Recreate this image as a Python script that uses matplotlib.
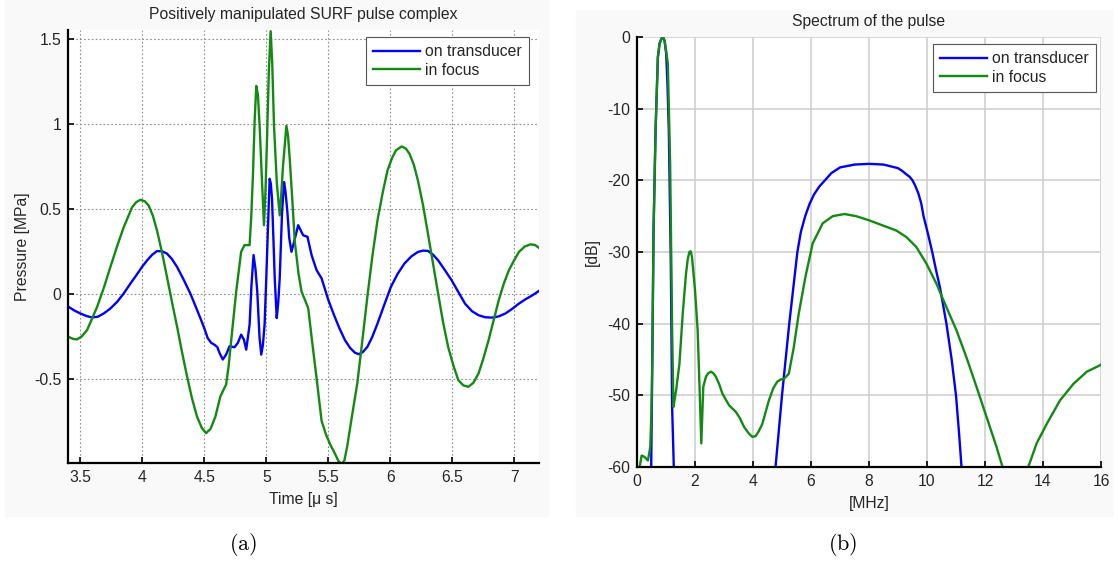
import numpy as np
import matplotlib
matplotlib.use("Agg")
import matplotlib.pyplot as plt
from matplotlib.patches import Rectangle

plt.rcParams['font.family'] = ['Liberation Sans', 'DejaVu Sans']
plt.rcParams['axes.unicode_minus'] = False
plt.rcParams['mathtext.fontset'] = 'cm'

# (a) pulse in time domain [us, MPa]
t_trans = [3.405, 3.45, 3.5, 3.55, 3.594, 3.64, 3.688, 3.74, 3.796, 3.85, 3.903, 3.95,
           3.997, 4.04, 4.08, 4.118, 4.16, 4.199, 4.24, 4.28, 4.33, 4.387, 4.44, 4.473,
           4.5, 4.527, 4.555, 4.581, 4.605, 4.622, 4.649, 4.676, 4.703, 4.743, 4.77,
           4.797, 4.819, 4.838, 4.865, 4.88, 4.897, 4.912, 4.927, 4.945, 4.959, 4.972,
           4.986, 5.0, 5.014, 5.027, 5.036, 5.046, 5.057, 5.068, 5.084, 5.096, 5.108,
           5.127, 5.143, 5.155, 5.17, 5.185, 5.203, 5.224, 5.257, 5.297, 5.332, 5.365,
           5.405, 5.446, 5.5, 5.545, 5.59, 5.635, 5.676, 5.715, 5.747, 5.78, 5.815,
           5.855, 5.897, 5.95, 6.005, 6.06, 6.114, 6.17, 6.223, 6.265, 6.304, 6.345,
           6.386, 6.44, 6.495, 6.55, 6.603, 6.66, 6.712, 6.765, 6.821, 6.875, 6.929,
           6.985, 7.038, 7.09, 7.147, 7.201]
p_trans = [-0.074, -0.095, -0.113, -0.128, -0.136, -0.132, -0.113, -0.085, -0.045, 0.005,
           0.062, 0.11, 0.16, 0.2, 0.232, 0.253, 0.252, 0.238, 0.205, 0.16, 0.09, 0.004,
           -0.09, -0.15, -0.2, -0.257, -0.285, -0.296, -0.31, -0.344, -0.383, -0.354,
           -0.305, -0.311, -0.286, -0.237, -0.266, -0.325, -0.179, 0.05, 0.23, 0.15,
           0.016, -0.25, -0.354, -0.3, -0.179, 0.1, 0.405, 0.677, 0.65, 0.56, 0.33,
           0.093, -0.14, -0.05, 0.093, 0.482, 0.658, 0.6, 0.482, 0.33, 0.249, 0.307,
           0.405, 0.346, 0.337, 0.23, 0.142, 0.093, -0.033, -0.12, -0.2, -0.27, -0.315,
           -0.343, -0.352, -0.338, -0.309, -0.25, -0.172, -0.065, 0.043, 0.12, 0.18,
           0.222, 0.248, 0.256, 0.254, 0.232, 0.199, 0.142, 0.082, 0.012, -0.055,
           -0.1, -0.123, -0.135, -0.137, -0.13, -0.113, -0.085, -0.055, -0.03, -0.006,
           0.02]

t_focus = [3.405, 3.44, 3.473, 3.51, 3.554, 3.59, 3.635, 3.69, 3.742, 3.8, 3.85, 3.917,
           3.95, 3.984, 4.02, 4.051, 4.085, 4.118, 4.16, 4.199, 4.24, 4.28, 4.32, 4.36,
           4.4, 4.441, 4.48, 4.514, 4.55, 4.589, 4.629, 4.655, 4.676, 4.696, 4.716,
           4.757, 4.797, 4.824, 4.865, 4.878, 4.892, 4.906, 4.919, 4.932, 4.946, 4.963,
           4.981, 4.993, 5.005, 5.02, 5.035, 5.048, 5.062, 5.085, 5.108, 5.12, 5.135,
           5.162, 5.175, 5.189, 5.21, 5.23, 5.26, 5.284, 5.31, 5.338, 5.37, 5.405,
           5.446, 5.48, 5.514, 5.55, 5.581, 5.608, 5.63, 5.652, 5.69, 5.734, 5.775,
           5.815, 5.855, 5.897, 5.94, 5.978, 6.015, 6.046, 6.092, 6.125, 6.155, 6.19,
           6.223, 6.265, 6.304, 6.345, 6.386, 6.425, 6.467, 6.51, 6.549, 6.59, 6.63,
           6.67, 6.712, 6.75, 6.793, 6.835, 6.875, 6.915, 6.957, 7.0, 7.038, 7.085,
           7.133, 7.17, 7.207]
p_focus = [-0.25, -0.262, -0.265, -0.248, -0.21, -0.15, -0.074, 0.04, 0.16, 0.29, 0.394,
           0.51, 0.54, 0.554, 0.545, 0.52, 0.46, 0.374, 0.24, 0.1, -0.05, -0.19, -0.34,
           -0.48, -0.61, -0.718, -0.785, -0.815, -0.79, -0.718, -0.6, -0.56, -0.529,
           -0.42, -0.276, 0.016, 0.249, 0.288, 0.288, 0.45, 0.697, 1.02, 1.222, 1.17,
           0.988, 0.7, 0.405, 0.6, 0.891, 1.3, 1.543, 1.35, 0.988, 0.65, 0.463, 0.58,
           0.755, 0.988, 0.93, 0.794, 0.55, 0.307, 0.12, 0.016, -0.03, -0.082, -0.28,
           -0.49, -0.743, -0.82, -0.879, -0.93, -0.977, -0.996, -0.975, -0.895, -0.72,
           -0.523, -0.27, -0.016, 0.22, 0.434, 0.6, 0.727, 0.8, 0.844, 0.867, 0.855,
           0.824, 0.76, 0.668, 0.52, 0.355, 0.18, 0.004, -0.16, -0.309, -0.42, -0.504,
           -0.535, -0.543, -0.52, -0.465, -0.38, -0.27, -0.15, -0.035, 0.06, 0.141,
           0.2, 0.248, 0.28, 0.293, 0.288, 0.268]

# (b) spectrum [MHz, dB]; nan where the curve leaves the -60 dB window
f_trans = [0.49, 0.526, 0.571, 0.64, 0.72, 0.78, 0.834, 0.89, 0.95, 1.006, 1.05, 1.097,
           1.166, 1.211, 1.269, np.nan,
           4.777, 5.0, 5.25, 5.53, 5.65, 5.8, 5.95, 6.1, 6.28, 6.48, 6.7, 7.0, 7.25,
           7.5, 8.0, 8.5, 9.0, 9.15, 9.3, 9.4, 9.5, 9.6, 9.7, 9.8, 9.88, 10.03, 10.18,
           10.3, 10.45, 10.67, 10.85, 11.0, 11.1, 11.19]
db_trans = [-60, -45.6, -27, -13, -2.8, -0.9, -0.3, 0, -0.5, -2.3, -6.5, -13, -31.6,
            -51.6, -60, np.nan,
            -60, -50, -40, -30, -27.2, -25, -23.3, -22, -20.9, -20, -19, -18.2, -18,
            -17.8, -17.7, -17.8, -18.3, -18.7, -19.2, -19.5, -20, -20.8, -21.8, -23.2,
            -25, -27.4, -30, -32.3, -35, -40, -45, -50, -55, -60]

f_focus = [0.09, 0.16, 0.263, 0.377, 0.457, 0.5, 0.526, 0.571, 0.64, 0.72, 0.78, 0.834,
           0.89, 0.95, 1.0, 1.063, 1.143, 1.211, 1.257, 1.3, 1.349, 1.463, 1.577, 1.691,
           1.75, 1.806, 1.85, 1.897, 2.0, 2.091, 2.149, 2.217, 2.286, 2.377, 2.46,
           2.549, 2.63, 2.72, 2.83, 2.949, 3.177, 3.406, 3.55, 3.691, 3.85, 3.977,
           4.09, 4.2, 4.32, 4.549, 4.7, 4.834, 4.95, 5.063, 5.234, 5.406, 5.577,
           5.806, 6.058, 6.403, 6.749, 7.153, 7.556, 8.017, 8.478, 8.939, 9.285,
           9.631, 9.977, 10.323, 10.669, 11.014, 11.36, 11.706, 12.052, 12.398, 12.605,
           np.nan,
           13.493, 13.781, 14.127, 14.588, 15.049, 15.51, 15.971, 16.0]
db_focus = [-60, -58.4, -58.6, -59.1, -57.2, -52, -45.6, -27, -13, -2.8, -0.9, -0.3, 0,
            -0.5, -1.8, -3.7, -17.7, -40.9, -51.6, -50.5, -49.3, -45.6, -38.6, -33,
            -31, -30, -29.9, -30.7, -35.3, -40.9, -47.9, -56.7, -48.8, -47.4, -46.9,
            -46.7, -46.9, -47.4, -48.4, -49.8, -51.4, -52.3, -53.2, -54.4, -55.3,
            -55.8, -55.7, -55.0, -54, -50.7, -49.0, -48.1, -47.8, -47.7, -47, -43.3,
            -38.6, -33.5, -28.8, -26, -25, -24.7, -25, -25.6, -26.3, -27, -27.9, -29.3,
            -31.6, -34.4, -37.7, -40.9, -44.7, -48.8, -53, -57.2, -60,
            np.nan,
            -60, -56.7, -54, -50.7, -48.4, -46.7, -45.8, -45.7]

t_ticks = [3.5, 4, 4.5, 5, 5.5, 6, 6.5, 7]
t_labels = ['3.5', '4', '4.5', '5', '5.5', '6', '6.5', '7']
p_ticks = [-0.5, 0, 0.5, 1, 1.5]
p_labels = ['-0.5', '0', '0.5', '1', '1.5']
f_ticks = [0, 2, 4, 6, 8, 10, 12, 14, 16]
db_ticks = [0, -10, -20, -30, -40, -50, -60]

BLUE = '#0000ff'
GREEN = '#138a13'
TXT = '#262626'
FS = 11.3

W, H = 1118, 565
fig = plt.figure(figsize=(W / 100, H / 100), dpi=100)
fig.patch.set_facecolor('white')

# faint grey panels behind each plot
fig.patches.append(Rectangle((5 / W, 1 - 516 / H), 543 / W, 516 / H,
                             transform=fig.transFigure, color='#f9f9f9', zorder=-10))
fig.patches.append(Rectangle((576 / W, 1 - 516 / H), 536 / W, 506 / H,
                             transform=fig.transFigure, color='#f9f9f9', zorder=-10))


def style(ax, dotted):
    ax.set_facecolor('white')
    for s in ('top', 'right'):
        ax.spines[s].set_visible(False)
    for s in ('left', 'bottom'):
        ax.spines[s].set_linewidth(1.6)
        ax.spines[s].set_color('black')
    ax.tick_params(direction='in', length=4, width=1.2, labelsize=FS,
                   labelcolor=TXT, pad=5)
    if dotted:
        ax.grid(True, color='#8f8f8f', linestyle=(0, (1.5, 2)), linewidth=0.8)
    else:
        ax.grid(True, color='#cfcfcf', linestyle='-', linewidth=1.2)
    ax.set_axisbelow(True)


def add_legend(ax, w, h, dx, dy):
    leg = ax.legend(loc='upper right', bbox_to_anchor=(1 - dx / w, 1 - dy / h),
                    fontsize=FS, handlelength=3.0, handletextpad=0.35, borderpad=0.45,
                    labelspacing=0.25, fancybox=False, framealpha=1,
                    edgecolor='#555555', borderaxespad=0)
    leg.get_frame().set_linewidth(0.8)
    for txt in leg.get_texts():
        txt.set_color(TXT)


ax1 = fig.add_axes([68 / W, 1 - 463 / H, 471 / W, 433 / H])
style(ax1, True)
ax1.plot(t_trans, p_trans, color=BLUE, lw=1.7, label='on transducer')
ax1.plot(t_focus, p_focus, color=GREEN, lw=1.7, label='in focus')
ax1.set_xlim(3.4, 7.2)
ax1.set_ylim(-0.99, 1.55)
ax1.set_xticks(t_ticks, t_labels)
ax1.set_yticks(p_ticks, p_labels)
ax1.set_title('Positively manipulated SURF pulse complex', fontsize=FS, color=TXT, pad=8)
ax1.set_xlabel('Time [\u03bc s]', fontsize=FS, color=TXT, labelpad=5)
ax1.set_ylabel('Pressure [MPa]', fontsize=FS, color=TXT, labelpad=3)
add_legend(ax1, 471, 433, 10, 7)

ax2 = fig.add_axes([637 / W, 1 - 467 / H, 464 / W, 430 / H])
style(ax2, False)
ax2.plot(f_trans, db_trans, color=BLUE, lw=1.7, label='on transducer')
ax2.plot(f_focus, db_focus, color=GREEN, lw=1.7, label='in focus')
ax2.set_xlim(0, 16)
ax2.set_ylim(-60, 0)
ax2.set_xticks(f_ticks)
ax2.set_yticks(db_ticks)
ax2.set_title('Spectrum of the pulse', fontsize=FS, color=TXT, pad=8)
ax2.set_xlabel('[MHz]', fontsize=FS, color=TXT, labelpad=5)
ax2.set_ylabel('[dB]', fontsize=FS, color=TXT, labelpad=5)
add_legend(ax2, 464, 430, 5, 7)

# sub-figure captions
fig.text(243 / W, 1 - 545 / H, r'$\mathrm{(a)}$', ha='center', va='center', fontsize=16)
fig.text(843 / W, 1 - 545 / H, r'$\mathrm{(b)}$', ha='center', va='center', fontsize=16)

fig.savefig('out.png', dpi=100)
